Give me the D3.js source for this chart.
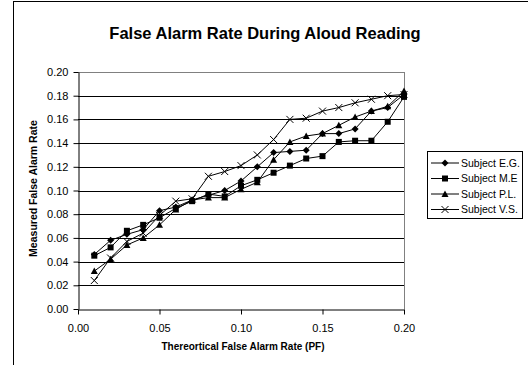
<!DOCTYPE html>
<html>
<head>
<meta charset="utf-8">
<script src="https://cdn.jsdelivr.net/npm/d3@7"></script>
<style>
  body { margin: 0; background: #fff; }
  text { font-family: "Liberation Sans", Arial, sans-serif; fill: #000; }
</style>
</head>
<body>
<div id="chart"></div>
<script>
var xValues = [0.01, 0.02, 0.03, 0.04, 0.05, 0.06, 0.07, 0.08, 0.09, 0.10,
               0.11, 0.12, 0.13, 0.14, 0.15, 0.16, 0.17, 0.18, 0.19, 0.20];
var subjectEG = [0.046, 0.058, 0.063, 0.067, 0.083, 0.086, 0.092, 0.096, 0.100, 0.108,
                 0.120, 0.132, 0.133, 0.134, 0.148, 0.148, 0.152, 0.167, 0.170, 0.181];
var subjectME = [0.045, 0.052, 0.066, 0.071, 0.077, 0.085, 0.091, 0.097, 0.095, 0.104,
                 0.109, 0.115, 0.121, 0.127, 0.129, 0.141, 0.142, 0.142, 0.158, 0.179];
var subjectPL = [0.032, 0.042, 0.054, 0.060, 0.071, 0.084, 0.092, 0.094, 0.094, 0.101,
                 0.107, 0.126, 0.141, 0.146, 0.148, 0.155, 0.162, 0.167, 0.171, 0.184];
var subjectVS = [0.024, 0.043, 0.057, 0.064, 0.079, 0.091, 0.093, 0.112, 0.116, 0.121,
                 0.130, 0.143, 0.160, 0.161, 0.167, 0.170, 0.174, 0.177, 0.180, 0.181];
var seriesNames = ["Subject E.G.", "Subject M.E", "Subject P.L.", "Subject V.S."];
var seriesMarkers = ["diamond", "square", "triangle", "cross"];
var xTicks = [0.00, 0.05, 0.10, 0.15, 0.20];
var yTicks = [0.00, 0.02, 0.04, 0.06, 0.08, 0.10, 0.12, 0.14, 0.16, 0.18, 0.20];

var series = [subjectEG, subjectME, subjectPL, subjectVS].map(function(vals, i) {
    return { name: seriesNames[i], marker: seriesMarkers[i],
             points: vals.map(function(v, j) { return [xValues[j], v]; }) };
});

var width = 528, height = 365,
    margin = {top: 72, right: 124, bottom: 56, left: 78};

var svg = d3.select("#chart").append("svg")
    .attr("width", width)
    .attr("height", height);

// outer chart frame
svg.append("rect")
    .attr("x", 13.5).attr("y", 1.5)
    .attr("width", 520).attr("height", 370)
    .style("fill", "none").style("stroke", "#000").style("stroke-width", 1);

var x = d3.scaleLinear().domain([0, 0.2]).range([margin.left, width - margin.right]);
var y = d3.scaleLinear().domain([0, 0.2]).range([height - margin.bottom, margin.top]);

// gridlines
svg.append("g").selectAll("line")
    .data(yTicks.slice(1))
    .enter().append("line")
    .attr("x1", x(0)).attr("x2", x(0.2))
    .attr("y1", function(d) { return Math.round(y(d)) + 0.5; })
    .attr("y2", function(d) { return Math.round(y(d)) + 0.5; })
    .style("stroke", function(d, i) { return i == yTicks.length - 2 ? "#808080" : "#000"; })
    .style("stroke-width", 1);

// right border of plot area
svg.append("line")
    .attr("x1", Math.round(x(0.2)) + 0.5).attr("x2", Math.round(x(0.2)) + 0.5)
    .attr("y1", y(0.2)).attr("y2", y(0))
    .style("stroke", "#808080");

var xAxis = svg.append("g")
    .attr("transform", "translate(0," + (Math.round(y(0)) + 0.5) + ")")
    .call(d3.axisBottom(x).tickValues(xTicks).tickFormat(d3.format(".2f")).tickSizeInner(5).tickSizeOuter(0));
var yAxis = svg.append("g")
    .attr("transform", "translate(" + (Math.round(x(0)) + 0.5) + ",0)")
    .call(d3.axisLeft(y).tickValues(yTicks).tickFormat(d3.format(".2f")).tickSizeInner(5).tickSizeOuter(0));

[xAxis, yAxis].forEach(function(a) {
    a.selectAll("text").style("font-size", "11px").style("font-family", "Liberation Sans, Arial, sans-serif");
    a.select(".domain").style("stroke", "#000");
});
xAxis.selectAll("text").attr("dy", "1.3em");
yAxis.selectAll("text").attr("x", -10);

var line = d3.line()
    .x(function(d) { return x(d[0]); })
    .y(function(d) { return y(d[1]); });

function drawMarker(g, kind, cx, cy) {
    if (kind == "diamond") {
        g.append("path").attr("d", "M" + cx + "," + (cy - 3.5) + "L" + (cx + 3.5) + "," + cy +
            "L" + cx + "," + (cy + 3.5) + "L" + (cx - 3.5) + "," + cy + "Z").style("fill", "#000");
    } else if (kind == "square") {
        g.append("rect").attr("x", cx - 3).attr("y", cy - 3).attr("width", 6).attr("height", 6).style("fill", "#000");
    } else if (kind == "triangle") {
        g.append("path").attr("d", "M" + cx + "," + (cy - 3.5) + "L" + (cx + 3.5) + "," + (cy + 3) +
            "L" + (cx - 3.5) + "," + (cy + 3) + "Z").style("fill", "#000");
    } else {
        g.append("path").attr("d", "M" + (cx - 3.5) + "," + (cy - 3.5) + "L" + (cx + 3.5) + "," + (cy + 3.5) +
            "M" + (cx - 3.5) + "," + (cy + 3.5) + "L" + (cx + 3.5) + "," + (cy - 3.5))
            .style("stroke", "#000").style("fill", "none");
    }
}

series.forEach(function(s) {
    var g = svg.append("g").attr("class", "series");
    g.append("path")
        .datum(s.points)
        .attr("d", line)
        .style("fill", "none")
        .style("stroke", "#000")
        .style("stroke-width", 1);
    s.points.forEach(function(p) { drawMarker(g, s.marker, x(p[0]), y(p[1])); });
});

// title and axis titles
svg.append("text")
    .attr("x", 265).attr("y", 39)
    .attr("text-anchor", "middle")
    .style("font-size", "16.5px").style("font-weight", "bold")
    .text("False Alarm Rate During Aloud Reading");

svg.append("text")
    .attr("transform", "translate(37," + (y(0.1) - 2) + ") rotate(-90)")
    .attr("text-anchor", "middle")
    .style("font-size", "10.5px").style("font-weight", "bold")
    .text("Measured False Alarm Rate");

svg.append("text")
    .attr("x", x(0.1) + 2).attr("y", 350)
    .attr("text-anchor", "middle")
    .style("font-size", "10px").style("font-weight", "bold")
    .text("Thereortical False Alarm Rate (PF)");

// legend
var legendBox = svg.append("g").attr("transform", "translate(427,151)");
legendBox.append("rect")
    .attr("x", 0.5).attr("y", 0.5).attr("width", 95).attr("height", 67)
    .style("fill", "#fff").style("stroke", "#000");

var legend = legendBox.selectAll("g.item")
    .data(series)
    .enter().append("g")
    .attr("class", "item")
    .attr("transform", function(d, i) { return "translate(0," + (12 + i * 15.5) + ")"; });

legend.append("line")
    .attr("x1", 4).attr("x2", 32)
    .style("stroke", "#000");
legend.each(function(d) { drawMarker(d3.select(this), d.marker, 18, 0); });
legend.append("text")
    .attr("x", 34).attr("dy", ".35em")
    .style("font-size", "10.5px")
    .text(function(d) { return d.name; });
</script>
</body>
</html>
